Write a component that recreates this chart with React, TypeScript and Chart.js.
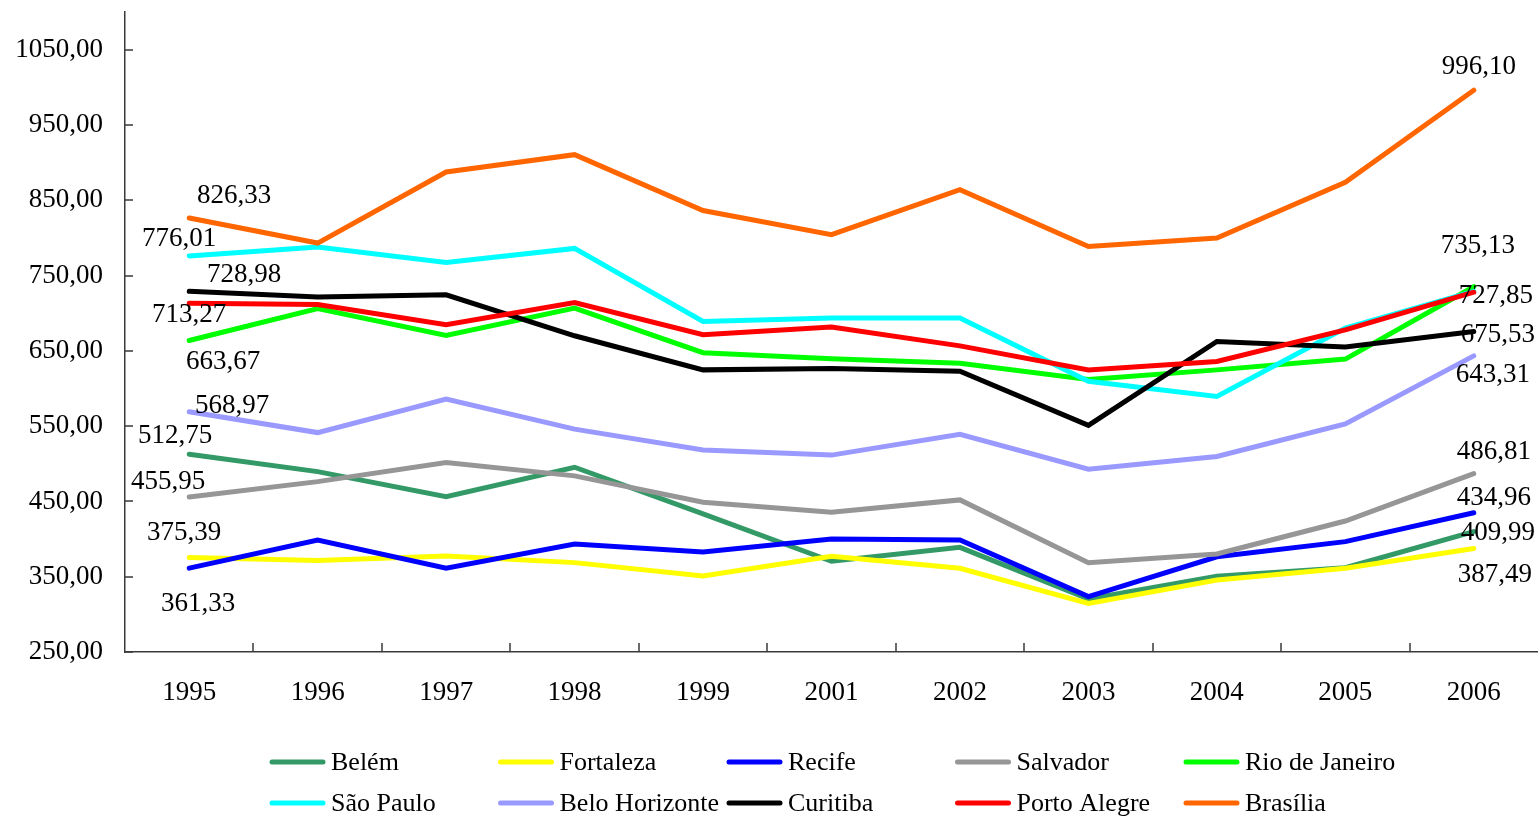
import React, { useEffect, useRef } from 'react';
import { Chart, registerables } from 'chart.js';

Chart.register(...registerables);

const FONT = '"Liberation Serif", "Times New Roman", serif';

// ---- data ----
const years = ['1995', '1996', '1997', '1998', '1999', '2001', '2002', '2003', '2004', '2005', '2006'];

const seriesNames = [
  'Belém',
  'Fortaleza',
  'Recife',
  'Salvador',
  'Rio de Janeiro',
  'São Paulo',
  'Belo Horizonte',
  'Curitiba',
  'Porto Alegre',
  'Brasília',
];

const belem = [512.75, 489.6, 456.4, 495.4, 433.4, 370.5, 389.0, 320.5, 350.5, 362.0, 409.99];
const fortaleza = [375.39, 371.4, 377.6, 368.7, 351.0, 377.0, 361.2, 314.5, 345.7, 361.2, 387.49];
const recife = [361.33, 398.8, 361.2, 393.5, 382.9, 400.2, 398.8, 323.5, 376.5, 396.6, 434.96];
const salvador = [455.95, 476.3, 501.6, 483.9, 449.0, 435.6, 452.0, 368.7, 380.2, 424.0, 486.81];
const rioDeJaneiro = [663.67, 706.0, 670.4, 706.7, 647.5, 639.5, 633.5, 612.0, 624.7, 639.0, 735.13];
const saoPaulo = [776.01, 787.8, 767.4, 786.0, 689.0, 693.5, 693.5, 609.5, 589.3, 680.2, 729.0];
const beloHorizonte = [568.97, 541.4, 585.8, 546.0, 518.4, 511.5, 539.0, 492.8, 509.6, 553.0, 643.31];
const curitiba = [728.98, 721.4, 724.4, 670.0, 624.7, 626.5, 623.0, 551.0, 662.4, 655.0, 675.53];
const portoAlegre = [713.27, 711.6, 684.6, 714.2, 671.3, 681.5, 656.6, 624.7, 635.8, 677.9, 727.85];
const brasilia = [826.33, 793.1, 887.5, 910.5, 836.4, 804.2, 864.0, 788.6, 799.7, 873.7, 996.1];

const seriesValues = [
  belem,
  fortaleza,
  recife,
  salvador,
  rioDeJaneiro,
  saoPaulo,
  beloHorizonte,
  curitiba,
  portoAlegre,
  brasilia,
];

// y axis ticks
const yMin = 250;
const yMax = 1100;
const yTickValues = [250, 350, 450, 550, 650, 750, 850, 950, 1050];

// ---- styles ----
const seriesColors = [
  '#339966',
  '#FFFF00',
  '#0000FF',
  '#969696',
  '#00FF00',
  '#00FFFF',
  '#9999FF',
  '#000000',
  '#FF0000',
  '#FF6600',
];

// label offsets (dx, dy) from the first / last point, null = no label
const startLabelOffsets: ([number, number] | null)[] = [
  [-14, -18],
  [-5, -25],
  [9, 36],
  [-21, -15],
  [34, 21],
  [-10, -17],
  [43, -6],
  [55, -16],
  [0, 12],
  [45, -22],
];
const endLabelOffsets: ([number, number] | null)[] = [
  [24, 1],
  [21, 26],
  [20, -15],
  [20, -22],
  [4, -41],
  null,
  [19, 19],
  [24, 3],
  [22, 4],
  [5, -23],
];

const AXIS_COLOR = '#3a3a3a';
const LEGEND = { left: 270, top: 762, colWidth: 228.5, rowHeight: 41, swatch: 55, gap: 6, cols: 5 };

const fmt = (v: number) => v.toFixed(2).replace('.', ',');

const labelPlugin = {
  id: 'endLabels',
  afterDatasetsDraw(chart: any) {
    const ctx = chart.ctx;
    ctx.save();
    ctx.font = `27px ${FONT}`;
    ctx.fillStyle = '#000';
    ctx.textAlign = 'center';
    ctx.textBaseline = 'middle';
    chart.data.datasets.forEach((ds: any, i: number) => {
      const pts = chart.getDatasetMeta(i).data;
      const place = (idx: number, off: [number, number] | null) => {
        if (!off) return;
        const p = pts[idx];
        ctx.fillText(fmt(ds.data[idx]), p.x + off[0], p.y + off[1]);
      };
      place(0, startLabelOffsets[i]);
      place(pts.length - 1, endLabelOffsets[i]);
    });
    ctx.restore();
  },
};

const tickPlugin = {
  id: 'inwardTicks',
  beforeDatasetsDraw(chart: any) {
    const { ctx, chartArea, scales } = chart;
    const x = scales.x;
    const y = scales.y;
    ctx.save();
    ctx.strokeStyle = AXIS_COLOR;
    ctx.lineWidth = 1.5;
    ctx.beginPath();
    y.ticks.forEach((_t: any, i: number) => {
      const py = Math.round(y.getPixelForTick(i));
      ctx.moveTo(chartArea.left, py);
      ctx.lineTo(chartArea.left + 8, py);
    });
    for (let i = 1; i < x.ticks.length; i++) {
      const px = Math.round((x.getPixelForTick(i - 1) + x.getPixelForTick(i)) / 2);
      ctx.moveTo(px, chartArea.bottom);
      ctx.lineTo(px, chartArea.bottom - 9);
    }
    ctx.stroke();
    ctx.restore();
  },
};

const legendPlugin = {
  id: 'gridLegend',
  afterDraw(chart: any) {
    const ctx = chart.ctx;
    ctx.save();
    ctx.font = `26px ${FONT}`;
    ctx.textBaseline = 'middle';
    ctx.textAlign = 'left';
    chart.data.datasets.forEach((ds: any, i: number) => {
      const col = i % LEGEND.cols;
      const row = Math.floor(i / LEGEND.cols);
      const x0 = LEGEND.left + col * LEGEND.colWidth;
      const yy = LEGEND.top + row * LEGEND.rowHeight;
      ctx.strokeStyle = ds.borderColor;
      ctx.lineWidth = 5;
      ctx.lineCap = 'round';
      ctx.beginPath();
      ctx.moveTo(x0 + 2, yy);
      ctx.lineTo(x0 + LEGEND.swatch - 2, yy);
      ctx.stroke();
      ctx.fillStyle = '#000';
      ctx.fillText(ds.label, x0 + LEGEND.swatch + LEGEND.gap, yy + 1);
    });
    ctx.restore();
  },
};

export default function App() {
  const canvasRef = useRef<HTMLCanvasElement | null>(null);

  useEffect(() => {
    if (!canvasRef.current) return;
    const n = seriesNames.length;
    const chart = new Chart(canvasRef.current, {
      type: 'line',
      data: {
        labels: years,
        datasets: seriesNames.map((name, i) => ({
          label: name,
          data: seriesValues[i],
          borderColor: seriesColors[i],
          backgroundColor: seriesColors[i],
          borderWidth: 5,
          pointRadius: 0,
          tension: 0,
          fill: false,
          borderCapStyle: 'round',
          borderJoinStyle: 'miter',
          order: n - i,
        })),
      },
      options: {
        responsive: false,
        animation: false,
        layout: { padding: { top: 12, left: 0, right: 0, bottom: 0 } },
        plugins: {
          legend: { display: false },
          tooltip: { enabled: false },
        },
        scales: {
          x: {
            offset: true,
            grid: { display: false, drawTicks: false },
            border: { display: true, color: AXIS_COLOR, width: 1.5 },
            ticks: {
              color: '#000',
              font: { family: FONT, size: 27 },
              padding: 25,
              maxRotation: 0,
              autoSkip: false,
            },
            afterFit: (scale: any) => {
              scale.height = 166;
              scale.paddingLeft = 0;
              scale.paddingRight = 0;
            },
          },
          y: {
            min: yMin,
            max: yMax,
            grid: { display: false, drawTicks: false },
            border: { display: true, color: AXIS_COLOR, width: 1.5 },
            ticks: {
              color: '#000',
              font: { family: FONT, size: 27 },
              padding: 22,
              callback: (v: any) => fmt(Number(v)),
            },
            afterBuildTicks: (scale: any) => {
              scale.ticks = yTickValues.map((v) => ({ value: v }));
            },
            afterFit: (scale: any) => {
              scale.width = 125;
              scale.paddingTop = 0;
              scale.paddingBottom = 0;
            },
          },
        },
      },
      plugins: [tickPlugin, labelPlugin, legendPlugin],
    } as any);
    return () => chart.destroy();
  }, []);

  return (
    <div style={{ position: 'fixed', left: 0, top: 0, width: 1538, height: 818, background: '#fff' }}>
      <canvas ref={canvasRef} width={1538} height={818} style={{ display: 'block' }} />
    </div>
  );
}
